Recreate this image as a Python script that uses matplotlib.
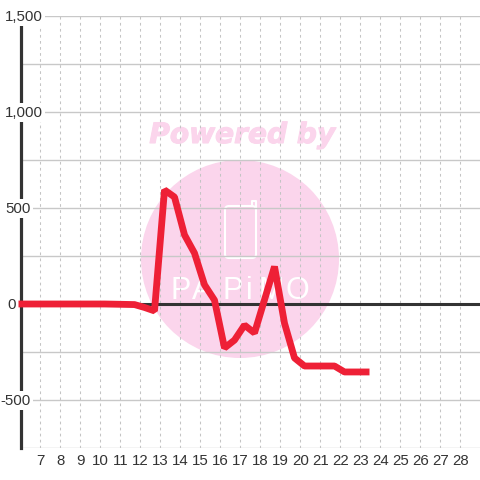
import matplotlib
matplotlib.use('Agg')

import matplotlib.pyplot as plt
import matplotlib.patheffects as pe
from matplotlib.patches import Circle, FancyBboxPatch
from matplotlib.transforms import blended_transform_factory

plt.rcParams['font.family'] = ['Liberation Sans', 'DejaVu Sans']

# values
x_vals = [5.9, 7.2, 8.2, 9.2, 10.2, 11.2, 11.7, 12.2, 12.7, 13.2, 13.7, 14.2, 14.7, 15.2, 15.7,
          16.2, 16.7, 17.2, 17.7, 18.7, 19.2, 19.7, 20.2, 21.7, 22.2, 23.45]
y_vals = [0, 0, 0, 0, 0, -2, -3, -18, -36, 594, 557, 360, 265, 100, 20,
          -229, -188, -110, -151, 195, -100, -281, -323, -323, -354, -354]
x_ticks = list(range(7, 29))
y_ticks = [-500, 0, 500, 1000, 1500]
y_tick_labels = ['-500', '0', '500', '1,000', '1,500']
y_label_right = [31, 16, 31, 43, 43]   # pixel position of the label's right edge

# watermark letters and their centres in pixels
logo_letters = ['P', 'A', 'P', 'i', 'M', 'O']
logo_x = [181, 202, 233, 249, 271, 297]

PINK = '#fbd5ec'
DARK = '#333333'

fig = plt.figure(figsize=(4.8, 4.8), dpi=100, facecolor='white')
ax = fig.add_axes([20.5 / 480, 32 / 480, 459.5 / 480, 432 / 480])
ax.set_xlim(6, 28.975)
ax.set_ylim(-750, 1500)
ax.set_facecolor('none')
ax.set_zorder(2)

# watermark behind the chart, in pixels of the figure
bg = fig.add_axes([0, 0, 1, 1], zorder=1)
bg.set_xlim(0, 480)
bg.set_ylim(480, 0)
bg.axis('off')
bg.add_patch(Circle((240, 259), 99, fc=PINK, ec='none'))
bg.text(242, 135, 'Powered by', color=PINK, fontsize=20.2, fontweight='bold', fontstyle='italic',
        family=['DejaVu Sans'], ha='center', va='center',
        path_effects=[pe.withStroke(linewidth=0.8, foreground=PINK)])
bg.add_patch(FancyBboxPatch((225, 206), 31, 52, boxstyle='round,pad=0,rounding_size=4',
                            fc='none', ec='white', lw=1.5))
bg.plot([252, 252, 256, 256], [206, 201, 201, 208], color='white', lw=1.5)
for letter, px in zip(logo_letters, logo_x):
    bg.text(px, 291, letter, color='white', fontsize=22, ha='center', va='center')

# grid
ax.set_yticks(list(range(-750, 1501, 250)))
ax.set_xticks(x_ticks)
ax.tick_params(length=0, labelleft=False)
ax.tick_params(axis='x', labelsize=10.8, labelcolor=DARK, pad=4.5)
ax.grid(axis='y', color='#c8c8c8', lw=1)
ax.grid(axis='x', color='#c4c4c4', lw=0.75, ls=(0, (2.6, 3.2)))
ax.set_axisbelow(True)

for side in ['top', 'right', 'bottom']:
    ax.spines[side].set_visible(False)
ax.spines['left'].set_color(DARK)
ax.spines['left'].set_linewidth(2.3)
ax.spines['left'].set_zorder(3)

ax.axhline(0, color=DARK, lw=2.2, zorder=3)
ax.plot(x_vals, y_vals, color='#ee2036', lw=4.9, solid_capstyle='butt', solid_joinstyle='bevel',
        zorder=4, clip_on=False)

# y labels sit on the axis with a white box behind them
label_trans = blended_transform_factory(fig.transFigure, ax.transData)
for val, lab, right in zip(y_ticks, y_tick_labels, y_label_right):
    ax.text(right / 480, val - 3, lab, transform=label_trans,
            ha='right', va='center', fontsize=10.8, color=DARK, zorder=3.5, clip_on=False,
            bbox=dict(fc='white', ec='none', pad=1.5))

fig.savefig('out.png', dpi=100)
